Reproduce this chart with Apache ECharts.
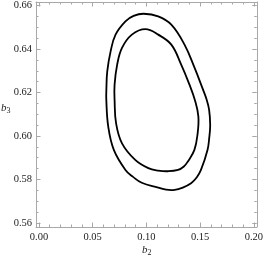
<!DOCTYPE html>
<html><head><meta charset="utf-8">
<script src="https://cdn.jsdelivr.net/npm/echarts@6/dist/echarts.min.js"></script>
<style>html,body{margin:0;padding:0;background:#fff}#c{width:266px;height:258px}</style>
</head><body><div id="c"></div>
<script>
// Outer contour, closed loop
const outerB2 = [0.0627,0.0628,0.0636,0.0667,0.0713,0.0805,0.0881,0.0975,0.1110,0.1232,0.1355,0.1449,0.1521,0.1562,0.1584,0.1594,0.1585,0.1569,0.1508,0.1468,0.1416,0.1339,0.1263,0.1184,0.1110,0.0957,0.0876,0.0805,0.0697,0.0645];
const outerB3 = [0.6166,0.6221,0.6298,0.6389,0.6466,0.6527,0.6552,0.6562,0.6550,0.6512,0.6420,0.6313,0.6221,0.6166,0.6120,0.6051,0.5991,0.5936,0.5844,0.5809,0.5783,0.5763,0.5752,0.5753,0.5763,0.5785,0.5812,0.5844,0.5936,0.6043];
// Inner contour, closed loop
const innerB2 = [0.0704,0.0704,0.0728,0.0773,0.0865,0.0991,0.1110,0.1232,0.1324,0.1401,0.1454,0.1484,0.1477,0.1447,0.1385,0.1349,0.1294,0.1202,0.1110,0.1018,0.0896,0.0773,0.0718];
const innerB3 = [0.6166,0.6236,0.6328,0.6405,0.6466,0.6491,0.6466,0.6420,0.6328,0.6236,0.6161,0.6089,0.6012,0.5936,0.5882,0.5860,0.5844,0.5838,0.5841,0.5852,0.5890,0.5966,0.6058];
// Ticks
const xMajor = [0.00,0.05,0.10,0.15,0.20];
const xMinor = [0.01,0.02,0.03,0.04,0.06,0.07,0.08,0.09,0.11,0.12,0.13,0.14,0.16,0.17,0.18,0.19];
const yMajor = [0.56,0.58,0.60,0.62,0.64,0.66];
const yMinor = [0.565,0.57,0.575,0.585,0.59,0.595,0.605,0.61,0.615,0.625,0.63,0.635,0.645,0.65,0.655];

const XMIN=-0.00275, XMAX=0.20275, YMIN=0.55816, YMAX=0.66161;
const frame='#a8a8a8';
const font='Liberation Serif';
function zip(a,b){return a.map((v,i)=>[v,b[i]]);}
function xAx(pos, minor, labels){
  return {type:'value', position:pos, min:XMIN, max:XMAX, gridIndex:0,
    axisLine:{show:!minor, onZero:false, lineStyle:{color:frame,width:1}},
    splitLine:{show:false},
    axisTick:{show:true, inside:true, length:minor?2.5:4.5, customValues:minor?xMinor:xMajor, lineStyle:{color:frame,width:1}},
    axisLabel:{show:labels, customValues:xMajor, formatter:v=>v.toFixed(2), fontFamily:font, fontSize:10.5, color:'#222', margin:5}};
}
function yAx(pos, minor, labels){
  return {type:'value', position:pos, min:YMIN, max:YMAX, gridIndex:0,
    axisLine:{show:!minor, onZero:false, lineStyle:{color:frame,width:1}},
    splitLine:{show:false},
    axisTick:{show:true, inside:true, length:minor?2.5:4.5, customValues:minor?yMinor:yMajor, lineStyle:{color:frame,width:1}},
    axisLabel:{show:labels, customValues:yMajor, formatter:v=>v.toFixed(2), fontFamily:font, fontSize:10.5, color:'#222', margin:4}};
}
function contour(b2, b3){
  const pts = zip(b2, b3);
  return {type:'custom', xAxisIndex:0, yAxisIndex:0, data:pts, clip:true,
    renderItem:function(params, api){
      if (params.dataIndex !== 0) return null;
      const p = pts.map(d => api.coord(d));
      return {type:'polygon', shape:{points:p, smooth:0.4},
        style:{fill:'none', stroke:'#000', lineWidth:1.8}};
    }};
}
const chart = echarts.init(document.getElementById('c'), null, {renderer:'canvas'});
chart.setOption({
  animation:false,
  grid:{left:36, top:2, width:224, height:225},
  xAxis:[xAx('bottom',false,true), xAx('bottom',true,false), xAx('top',false,false), xAx('top',true,false)],
  yAxis:[yAx('left',false,true), yAx('left',true,false), yAx('right',false,false), yAx('right',true,false)],
  graphic:[
    {type:'text', left:142, top:245, style:{text:'{i|b}{s|2}', rich:{i:{fontFamily:font, fontStyle:'italic', fontSize:11, fill:'#222'}, s:{fontFamily:font, fontSize:8, fill:'#222', padding:[5,0,0,0]}}}},
    {type:'text', left:1, top:103, style:{text:'{i|b}{s|3}', rich:{i:{fontFamily:font, fontStyle:'italic', fontSize:11, fill:'#222'}, s:{fontFamily:font, fontSize:8, fill:'#222', padding:[5,0,0,0]}}}}
  ],
  series:[contour(outerB2, outerB3), contour(innerB2, innerB3)]
});
</script></body></html>
